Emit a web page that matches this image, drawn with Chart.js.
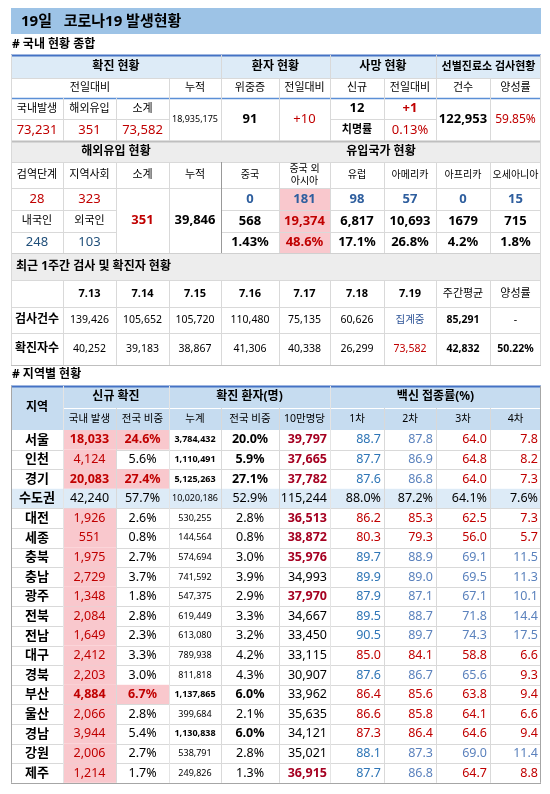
<!DOCTYPE html>
<html><head><meta charset="utf-8">
<script src="https://cdn.jsdelivr.net/npm/chart.js@4"></script>
<style>html,body{margin:0;background:#fff}</style>
</head><body>
<canvas id="c" width="550" height="794"></canvas>
<script>
// --- data ---
const summaryTitle = '19일   코로나19 발생현황';
const todayCases = [73231, 351, 73582];   // 국내발생, 해외유입, 소계
const totalCases = 18935175;
const critical = [91, '+10'];
const deaths = [12, '+1', '0.13%'];
const screening = [122953, '59.85%'];

const importedToday = [28, 323, 351];
const importedTotal = 39846;
const importedNationality = [248, 103];   // 내국인, 외국인
const originNames = ['중국', '중국 외\n아시아', '유럽', '아메리카', '아프리카', '오세아니아'];
const originToday = [0, 181, 98, 57, 0, 15];
const originTotal = ['568', '19,374', '6,817', '10,693', '1679', '715'];
const originShare = ['1.43%', '48.6%', '17.1%', '26.8%', '4.2%', '1.8%'];

const weekDates = ['7.13', '7.14', '7.15', '7.16', '7.17', '7.18', '7.19', '주간평균', '양성률'];
const weekTests = [139426, 105652, 105720, 110480, 75135, 60626, '집계중', 85291, '-'];
const weekCases = [40252, 39183, 38867, 41306, 40338, 26299, 73582, 42832, '50.22%'];

const regions = ['서울','인천','경기','수도권','대전','세종','충북','충남','광주','전북','전남','대구','경북','부산','울산','경남','강원','제주'];
const newCases = [18033,4124,20083,42240,1926,551,1975,2729,1348,2084,1649,2412,2203,4884,2066,3944,2006,1214];
const newShare = [24.6,5.6,27.4,57.7,2.6,0.8,2.7,3.7,1.8,2.8,2.3,3.3,3.0,6.7,2.8,5.4,2.7,1.7];
const cumCases = [3784432,1110491,5125263,10020186,530255,144564,574694,741592,547375,619449,613080,789938,811818,1137865,399684,1130838,538791,249826];
const cumShare = [20.0,5.9,27.1,52.9,2.8,0.8,3.0,3.9,2.9,3.3,3.2,4.2,4.3,6.0,2.1,6.0,2.8,1.3];
const per100k = [39797,37665,37782,115244,36513,38872,35976,34993,37970,34667,33450,33115,30907,33962,35635,34121,35021,36915];
const vac1 = [88.7,87.7,87.6,88.0,86.2,80.3,89.7,89.9,87.9,89.5,90.5,85.0,87.6,86.4,86.6,87.3,88.1,87.7];
const vac2 = [87.8,86.9,86.8,87.2,85.3,79.3,88.9,89.0,87.1,88.7,89.7,84.1,86.7,85.6,85.8,86.4,87.3,86.8];
const vac3 = [64.0,64.8,64.0,64.1,62.5,56.0,69.1,69.5,67.1,71.8,74.3,58.8,65.6,63.8,64.1,64.6,69.0,64.7];
const vac4 = [7.8,8.2,7.3,7.6,7.3,5.7,11.5,11.3,10.1,14.4,17.5,6.6,9.3,9.4,6.6,9.4,11.4,8.8];
const vacLimits = [87.5, 86.5, 65, 9.5];

// --- layout ---
const X = [11, 63, 116, 169, 221, 279, 330, 384, 436, 490, 541];
const FONT = '"Noto Sans", "Noto Sans CJK KR", sans-serif';
const RED = '#c00000', BLUE1 = '#2e75b6', BLUE2 = '#5b82bd', PINK = '#f9c8cd';
const HEAD = '#ddebf7', HEAD2 = '#c6dcf0', GRAY = '#ededed', LINE = '#d9d9d9';
const fmt = v => typeof v === 'number' ? v.toLocaleString('en-US') : v;

function tableDrawer(chart) {
  const ctx = chart.ctx;
  ctx.save();
  const box = (x0, y0, x1, y1, bg) => { ctx.fillStyle = bg; ctx.fillRect(x0, y0, x1 - x0, y1 - y0); };
  const hline = (x0, x1, y, c, w) => { ctx.strokeStyle = c || LINE; ctx.lineWidth = w || 1; ctx.beginPath(); ctx.moveTo(x0, y + .5); ctx.lineTo(x1, y + .5); ctx.stroke(); };
  const vline = (x, y0, y1, c, w) => { ctx.strokeStyle = c || LINE; ctx.lineWidth = w || 1; ctx.beginPath(); ctx.moveTo(x + .5, y0); ctx.lineTo(x + .5, y1); ctx.stroke(); };
  function text(s, x0, x1, y0, y1, o) {
    o = o || {};
    ctx.font = (o.bold ? 'bold ' : '') + (o.size || 12) + 'px ' + FONT;
    ctx.fillStyle = o.color || '#000';
    ctx.textBaseline = 'middle';
    const lines = String(s).split('\n');
    const lh = (o.size || 12) + 2;
    lines.forEach((ln, i) => {
      const y = (y0 + y1) / 2 + (i - (lines.length - 1) / 2) * lh;
      if (o.align === 'right') { ctx.textAlign = 'right'; ctx.fillText(ln, x1 - 3, y); }
      else { ctx.textAlign = 'center'; ctx.fillText(ln, (x0 + x1) / 2, y); }
    });
  }
  const cell = (c0, c1, y0, y1, s, o) => {
    if (o && o.bg) box(X[c0], y0, X[c1], y1, o.bg);
    text(s, X[c0], X[c1], y0, y1, o);
  };

  // title
  box(11, 8, 541, 34, '#9dc3e6');
  ctx.font = 'bold 15px ' + FONT; ctx.fillStyle = '#000'; ctx.textAlign = 'left'; ctx.textBaseline = 'middle';
  ctx.fillText(summaryTitle, 21, 22);
  ctx.font = 'bold 12px ' + FONT;
  ctx.fillText('# 국내 현황 종합', 12, 45);

  // section 1
  const r = [55, 78, 98, 119, 141, 162, 188, 210, 232, 253, 280, 307, 333, 365];
  box(X[0], r[0], X[10], r[1], HEAD);
  box(X[0], r[4], X[10], r[5], GRAY);
  box(X[0], r[9], X[10], r[10], GRAY);
  cell(0, 4, r[0], r[1], '확진 현황', { bold: true, size: 12 });
  cell(4, 6, r[0], r[1], '환자 현황', { bold: true });
  cell(6, 8, r[0], r[1], '사망 현황', { bold: true });
  cell(8, 10, r[0], r[1], '선별진료소 검사현황', { bold: true, size: 11 });
  cell(0, 3, r[1], r[2], '전일대비', { size: 11 });
  ['누적', '위중증', '전일대비', '신규', '전일대비', '건수', '양성률'].forEach((s, i) => cell(i + 3, i + 4, r[1], r[2], s, { size: 11 }));
  ['국내발생', '해외유입', '소계'].forEach((s, i) => cell(i, i + 1, r[2], r[3], s, { size: 11 }));
  todayCases.forEach((v, i) => cell(i, i + 1, r[3], r[4], fmt(v), { color: RED, size: 13 }));
  cell(3, 4, r[2], r[4], fmt(totalCases), { size: 9 });
  cell(4, 5, r[2], r[4], critical[0], { bold: true, size: 13 });
  cell(5, 6, r[2], r[4], critical[1], { color: RED, size: 13 });
  cell(6, 7, r[2], r[3], deaths[0], { bold: true, size: 13 });
  cell(7, 8, r[2], r[3], deaths[1], { color: RED, bold: true, size: 13 });
  cell(6, 7, r[3], r[4], '치명률', { bold: true, size: 11 });
  cell(7, 8, r[3], r[4], deaths[2], { color: RED, size: 13 });
  cell(8, 9, r[2], r[4], fmt(screening[0]), { bold: true, size: 13 });
  cell(9, 10, r[2], r[4], screening[1], { color: RED, size: 12 });

  cell(0, 4, r[4], r[5], '해외유입 현황', { bold: true });
  cell(4, 10, r[4], r[5], '유입국가 현황', { bold: true });
  ['검역단계', '지역사회', '소계', '누적'].forEach((s, i) => cell(i, i + 1, r[5], r[6], s, { size: 11 }));
  originNames.forEach((s, i) => cell(i + 4, i + 5, r[5], r[6], s, { size: 10 }));
  cell(0, 1, r[6], r[7], importedToday[0], { color: RED, size: 13 });
  cell(1, 2, r[6], r[7], importedToday[1], { color: RED, size: 13 });
  cell(2, 3, r[6], r[9], importedToday[2], { color: RED, bold: true, size: 13 });
  cell(3, 4, r[6], r[9], fmt(importedTotal), { bold: true, size: 13 });
  cell(0, 1, r[7], r[8], '내국인', { size: 11 });
  cell(1, 2, r[7], r[8], '외국인', { size: 11 });
  importedNationality.forEach((v, i) => cell(i, i + 1, r[8], r[9], v, { color: '#1f4e79', size: 13 }));
  originToday.forEach((v, i) => cell(i + 4, i + 5, r[6], r[7], fmt(v), { color: '#2e5e9e', bold: true, size: 13, bg: i === 1 ? PINK : null }));
  originTotal.forEach((v, i) => cell(i + 4, i + 5, r[7], r[8], v, { bold: true, size: 13, color: i === 1 ? RED : '#000', bg: i === 1 ? PINK : null }));
  originShare.forEach((v, i) => cell(i + 4, i + 5, r[8], r[9], v, { bold: true, size: 13, color: i === 1 ? RED : '#000', bg: i === 1 ? PINK : null }));

  ctx.font = 'bold 12px ' + FONT; ctx.fillStyle = '#000'; ctx.textAlign = 'left';
  ctx.fillText('최근 1주간 검사 및 확진자 현황', 16, (r[9] + r[10]) / 2);
  weekDates.forEach((s, i) => cell(i + 1, i + 2, r[10], r[11], s, { bold: i < 7, size: 11 }));
  cell(0, 1, r[11], r[12], '검사건수', { bold: true, size: 12 });
  cell(0, 1, r[12], r[13], '확진자수', { bold: true, size: 12 });
  weekTests.forEach((v, i) => cell(i + 1, i + 2, r[11], r[12], fmt(v), { size: 10.5, bold: i === 7, color: i === 6 ? '#2f5597' : '#000' }));
  weekCases.forEach((v, i) => cell(i + 1, i + 2, r[12], r[13], fmt(v), { size: 10.5, bold: i >= 7, color: i === 6 ? RED : '#000' }));

  // grid for section 1
  [r[1], r[5], r[6], r[11], r[12]].forEach(y => hline(X[0], X[10], y));
  hline(X[0], X[3], r[3]); hline(X[6], X[8], r[3]);
  hline(X[0], X[2], r[7]); hline(X[4], X[10], r[7]);
  hline(X[0], X[2], r[8]); hline(X[4], X[10], r[8]);
  hline(X[0], X[10], r[0], '#4472c4', 2);
  hline(X[0], X[10], r[2], '#5b8fd6', 1.5);
  hline(X[0], X[10], r[4], '#bfbfbf', 2);
  hline(X[0], X[10], r[9], '#d0d0d0', 1);
  hline(X[0], X[10], r[10], LINE);
  hline(X[0], X[10], r[13], '#bfbfbf', 1);
  [1, 2, 3, 4, 5, 6, 7, 8, 9].forEach(c => {
    if (c !== 1 && c !== 2) vline(X[c], r[0] + 23, r[4]);
    else vline(X[c], r[2], r[4]);
    if (c === 4 || c === 6 || c === 8) vline(X[c], r[0], r[1]);
    vline(X[c], r[5], r[9], c === 4 ? '#999' : LINE);
    vline(X[c], r[10], r[13]);
  });
  vline(X[0], r[0], r[13]); vline(X[10] - 1, r[0], r[13]);

  // region table
  ctx.font = 'bold 12px ' + FONT; ctx.fillStyle = '#000'; ctx.textAlign = 'left';
  ctx.fillText('# 지역별 현황', 12, 375);
  const t0 = 386, t1 = 408, t2 = 430, rh = 19.6;
  box(X[0], t0, X[10], t2, HEAD2);
  cell(0, 1, t0, t2, '지역', { bold: true, size: 12 });
  cell(1, 3, t0, t1, '신규 확진', { bold: true });
  cell(3, 6, t0, t1, '확진 환자(명)', { bold: true });
  cell(6, 10, t0, t1, '백신 접종률(%)', { bold: true });
  ['국내 발생', '전국 비중', '누계', '전국 비중', '10만명당', '1차', '2차', '3차', '4차'].forEach((s, i) => cell(i + 1, i + 2, t1, t2, s, { size: 10.5 }));
  const vacs = [vac1, vac2, vac3, vac4];
  regions.forEach((name, i) => {
    const y0 = t2 + i * rh, y1 = y0 + rh;
    const metro = name === '수도권';
    if (metro) box(X[0], y0, X[10], y1, HEAD);
    const big = newShare[i] >= 6.5 && !metro;
    const heavy = cumShare[i] >= 5 && !metro;
    cell(0, 1, y0, y1, name, { bold: true, size: 13 });
    cell(1, 2, y0, y1, fmt(newCases[i]), { size: 12.5, bold: big, color: metro ? '#000' : RED, bg: metro ? null : PINK });
    cell(2, 3, y0, y1, newShare[i].toFixed(1) + '%', { size: 12.5, bold: big, color: big ? RED : '#000', bg: big ? PINK : null });
    cell(3, 4, y0, y1, fmt(cumCases[i]), { size: 9, bold: heavy });
    cell(4, 5, y0, y1, cumShare[i].toFixed(1) + '%', { size: 12.5, bold: heavy });
    const hi = !metro && per100k[i] > 35900;
    cell(5, 6, y0, y1, fmt(per100k[i]), { size: 12.5, bold: hi, color: hi ? '#a50021' : '#000', align: 'right' });
    vacs.forEach((arr, k) => {
      const v = arr[i];
      const col = metro ? '#000' : (v < vacLimits[k] ? RED : (k === 0 ? BLUE1 : BLUE2));
      cell(6 + k, 7 + k, y0, y1, metro ? v.toFixed(1) + '%' : v.toFixed(1), { size: 12.5, color: col, align: 'right' });
    });
    hline(X[0], X[10], Math.round(y1), i === regions.length - 1 ? '#a6a6a6' : LINE);
  });
  hline(X[1], X[10], t1, '#fff');
  hline(X[0], X[10], t0, '#4472c4', 2);
  const tEnd = t2 + regions.length * rh;
  for (let c = 1; c < 10; c++) vline(X[c], [2, 4, 5, 7, 8, 9].includes(c) ? t1 : t0, tEnd, [1, 3, 6].includes(c) ? '#e4e4e4' : LINE);
  vline(X[0], t0, tEnd, '#a6a6a6'); vline(X[10] - 1, t0, tEnd, '#a6a6a6');
  ctx.restore();
}

new Chart(document.getElementById('c'), {
  type: 'bar',
  data: { labels: regions, datasets: [{ label: '국내 발생', data: newCases, hidden: true }] },
  options: {
    responsive: false, animation: false, devicePixelRatio: 1,
    plugins: { legend: { display: false }, tooltip: { enabled: false } },
    scales: { x: { display: false }, y: { display: false } }
  },
  plugins: [{ id: 'table', afterDraw: tableDrawer }]
});
</script>
</body></html>
